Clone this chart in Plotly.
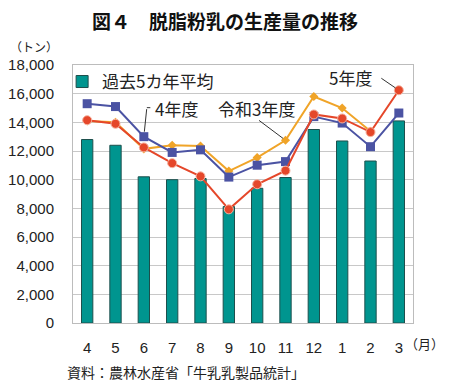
import plotly.graph_objects as go

months = ["4", "5", "6", "7", "8", "9", "10", "11", "12", "1", "2", "3"]
avg5 = [12800, 12400, 10200, 10000, 10080, 8120, 9400, 10150, 13500, 12700, 11300, 14100]
fy4 = [15300, 15100, 13000, 11900, 12080, 10180, 11010, 11260, 14400, 13950, 12300, 14650]
fy5 = [14150, 13900, 12250, 11150, 10230, 7930, 9680, 10630, 14550, 14270, 13320, 16240]
fy3 = [14100, 14000, 12150, 12400, 12350, 10600, 11540, 12750, 15800, 15000, 13380, None]

yticks = [0, 2000, 4000, 6000, 8000, 10000, 12000, 14000, 16000, 18000]
ytick_text = ["0", "2,000", "4,000", "6,000", "8,000", "10,000", "12,000", "14,000", "16,000", "18,000"]

FONT = "Liberation Sans, Arial, Noto Sans CJK JP"
JP = "Noto Sans CJK JP, Liberation Sans"

fig = go.Figure()
fig.add_trace(go.Bar(
    x=months, y=avg5, name="過去5カ年平均", width=0.4,
    marker=dict(color="#00958f", line=dict(color="#1d4f4c", width=1)),
))
fig.add_trace(go.Scatter(
    x=months, y=fy3, mode="lines+markers", name="令和3年度", showlegend=False,
    line=dict(color="#f0a428", width=2),
    marker=dict(symbol="diamond", size=7, color="#f0a428"),
))
fig.add_trace(go.Scatter(
    x=months, y=fy4, mode="lines+markers", name="4年度", showlegend=False,
    line=dict(color="#4b53a3", width=2),
    marker=dict(symbol="square", size=9, color="#4b53a3"),
))
fig.add_trace(go.Scatter(
    x=months, y=fy5, mode="lines+markers", name="5年度", showlegend=False,
    line=dict(color="#e5472a", width=2),
    marker=dict(symbol="circle", size=9, color="#e5472a", line=dict(color="#f6b3a0", width=1)),
))

i6 = months.index("6")
i11 = months.index("11")
i3 = months.index("3")

annotations = [
    # labels
    dict(x=i6, y=fy4[i6], xref="x", yref="y", text="4年度", showarrow=False,
         xanchor="left", yanchor="middle", xshift=9, yshift=28,
         font=dict(size=17, family=JP, color="#222")),
    dict(x=i11, y=fy3[i11], xref="x", yref="y", text="令和3年度", showarrow=False,
         xanchor="center", yanchor="middle", xshift=-29, yshift=32,
         font=dict(size=17, family=JP, color="#222")),
    dict(x=i3, y=fy5[i3], xref="x", yref="y", text="5年度", showarrow=False,
         xanchor="right", yanchor="middle", xshift=-25, yshift=13,
         font=dict(size=17, family=JP, color="#222")),
    # leader lines
    dict(x=i6, y=fy4[i6], xref="x", yref="y", text="", showarrow=True, arrowhead=0,
         arrowwidth=1, arrowcolor="#333", ax=3, ay=-29, standoff=5),
    dict(x=i6, y=fy4[i6], xref="x", yref="y", text="", showarrow=True, arrowhead=0,
         arrowwidth=1, arrowcolor="#333", ax=5, ay=0, standoff=0, xshift=3, yshift=29),
    dict(x=i11, y=fy3[i11], xref="x", yref="y", text="", showarrow=True, arrowhead=0,
         arrowwidth=1, arrowcolor="#333", ax=-28, ay=-21, standoff=3),
    dict(x=i3, y=fy5[i3], xref="x", yref="y", text="", showarrow=True, arrowhead=0,
         arrowwidth=1, arrowcolor="#333", ax=-19, ay=-13, standoff=4),
    # units & source
    dict(x=-0.115, y=1.07, xref="paper", yref="paper", text="（トン）", showarrow=False,
         xanchor="center", yanchor="middle",
         font=dict(size=12, family=JP, color="#222")),
    dict(x=1.035, y=0, xref="paper", yref="paper", text="（月）", showarrow=False,
         xanchor="center", yanchor="middle", yshift=-20,
         font=dict(size=13, family=JP, color="#222")),
    dict(x=-0.0235, y=0, xref="paper", yref="paper", text="資料：農林水産省「牛乳乳製品統計」",
         showarrow=False, xanchor="left", yanchor="middle", yshift=-49,
         font=dict(size=14, family=JP, color="#222")),
]

fig.update_layout(
    width=442, height=374,
    margin=dict(l=65, r=37, t=57, b=59, autoexpand=False),
    paper_bgcolor="white", plot_bgcolor="white",
    title=dict(text="<b>図４　脱脂粉乳の生産量の推移</b>", x=0.491, xanchor="center",
               y=0.962, yanchor="middle", xref="container", yref="container",
               font=dict(size=19, family=JP, color="#111")),
    font=dict(family=FONT, size=15, color="#222"),
    showlegend=True,
    legend=dict(x=-0.032, y=1.004, xanchor="left", yanchor="top", bgcolor="rgba(0,0,0,0)",
                font=dict(size=17, family=JP, color="#222")),
    xaxis=dict(type="category", categoryorder="array", categoryarray=months,
               range=[-0.5, len(months) - 0.5], autorange=False,
               showgrid=False, showline=True, linecolor="#bcbcbc", mirror=True,
               ticks="", ticklabelstandoff=11, automargin=False,
               tickfont=dict(size=15, family=FONT)),
    yaxis=dict(range=[0, 18000], tickvals=yticks, ticktext=ytick_text,
               showgrid=True, gridcolor="#c8c8c8", gridwidth=1,
               showline=True, linecolor="#bcbcbc", mirror=True, zeroline=False,
               ticks="", ticklabelstandoff=15, automargin=False,
               tickfont=dict(size=15, family=FONT)),
    annotations=annotations,
    bargap=0.6,
)

fig.write_html("out.html")
